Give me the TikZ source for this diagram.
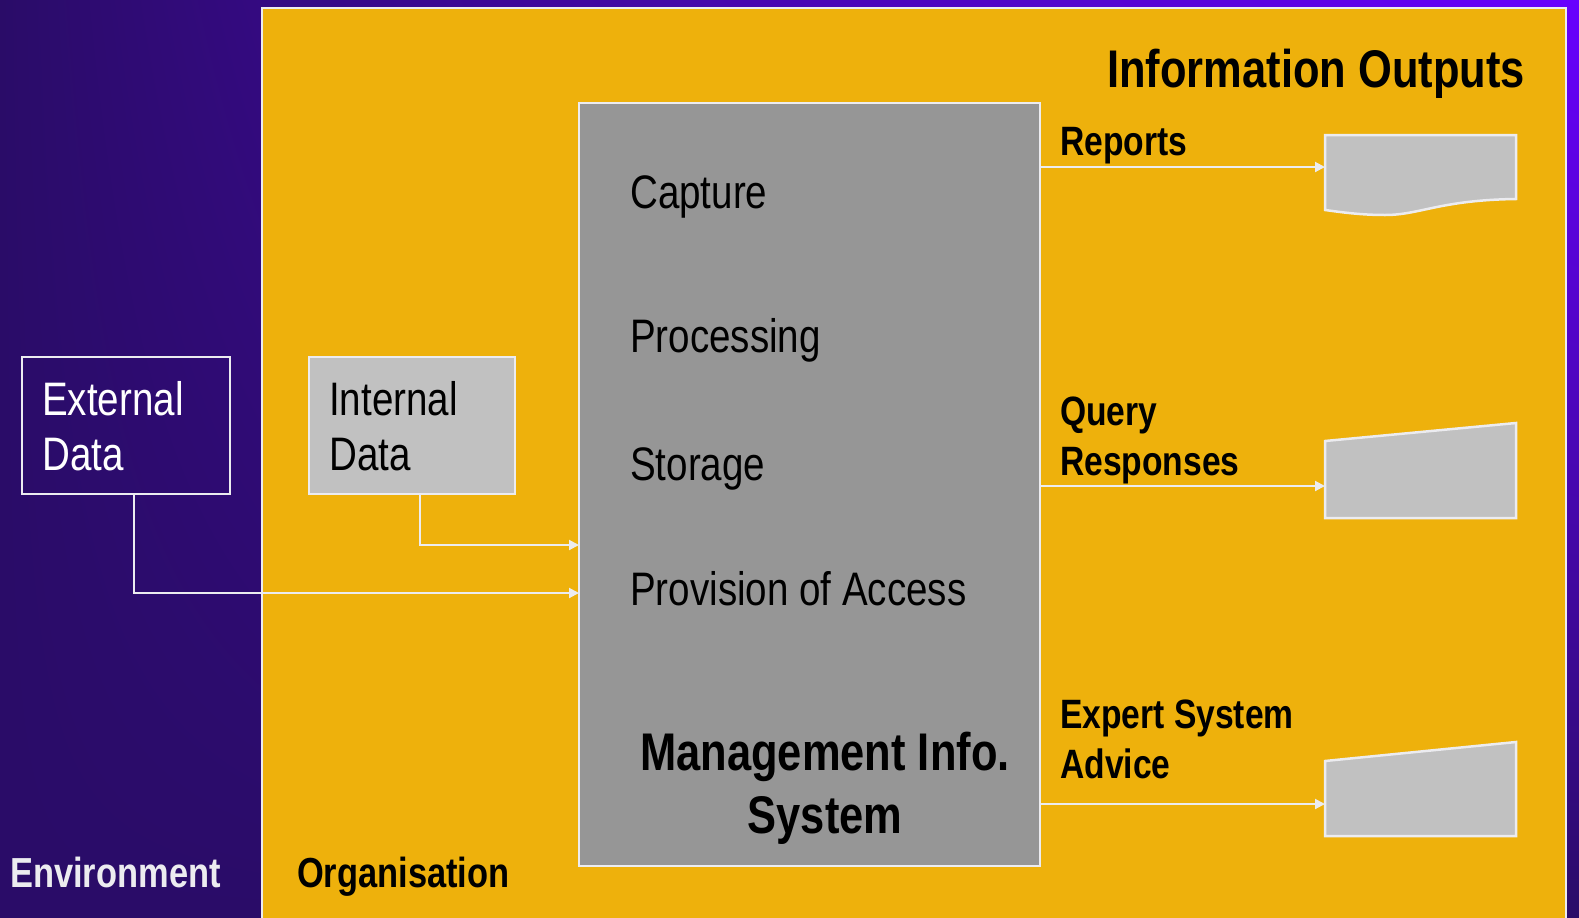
\documentclass[tikz,border=0pt]{standalone}
\usepackage{fontspec}
\setmainfont[FakeStretch=0.82]{Liberation Sans}
\usetikzlibrary{arrows.meta,shadings}
\definecolor{bgdark}{RGB}{42,12,104}
\definecolor{bgbright}{RGB}{104,0,255}
\definecolor{orgfill}{RGB}{238,177,12}
\definecolor{edge}{RGB}{236,236,240}
\definecolor{lightgrey}{RGB}{193,193,193}
\definecolor{misgrey}{RGB}{150,150,150}
\tikzset{
  boxline/.style={draw=edge, line width=2.5bp},
  conn/.style={draw=edge, line width=2bp, -{Triangle[length=10bp,width=10bp]}},
  txt/.style={inner sep=0pt, anchor=base west, align=left},
  reg/.style={font=\fontsize{47bp}{55bp}\selectfont},
  lbl/.style={font=\fontsize{41bp}{50bp}\selectfont\bfseries},
  docshape/.style={boxline, fill=lightgrey},
}
\begin{document}
\begin{tikzpicture}[x=1bp,y=-1bp]
\useasboundingbox (0,0) rectangle (1579,917);
\shade[upper left=bgdark, lower left=bgdark, upper right=bgbright, lower right=bgdark] (0,0) rectangle (1579,917);
% organisation
\draw[boxline, fill=orgfill] (262,8) rectangle (1566,930);
% boxes
\node[boxline, minimum width=208bp, minimum height=137bp, inner sep=0pt] (ext) at (126,425.5) {};
\node[boxline, fill=lightgrey, minimum width=206bp, minimum height=137bp, inner sep=0pt] (int) at (412,425.5) {};
\node[boxline, fill=misgrey, minimum width=461bp, minimum height=763bp, inner sep=0pt] (mis) at (809.5,484.5) {};
% box texts
\node[txt, reg, text=white] (extT) at (42,470) {External\\Data};
\node[txt, reg] (intT) at (329,470) {Internal\\Data};
\node[txt, reg] (cap) at (630,208) {Capture};
\node[txt, reg] (proc) at (630,352) {Processing};
\node[txt, reg] (stor) at (630,480) {Storage};
\node[txt, reg] (prov) at (630,605) {Provision of Access};
\node[inner sep=0pt, anchor=base, align=center, font=\fontsize{53bp}{63bp}\selectfont\bfseries] (misT) at (825,833) {Management Info.\\System};
% titles
\node[inner sep=0pt, anchor=base east, font=\fontsize{53bp}{63bp}\selectfont\bfseries] (outT) at (1525,87) {Information Outputs};
\node[txt, lbl] (repT) at (1060,155) {Reports};
\node[txt, lbl] (qT) at (1060,475) {Query\\Responses};
\node[txt, lbl] (eT) at (1060,778) {Expert System\\Advice};
\node[txt, font=\fontsize{42bp}{50bp}\selectfont\bfseries, text=edge] (envT) at (10,887) {Environment};
\node[txt, font=\fontsize{42bp}{50bp}\selectfont\bfseries] (orgT) at (297,887) {Organisation};
% output documents
\draw[docshape] (1325,135) -- (1516,135) -- (1516,199) .. controls (1440,200) and (1420,215) .. (1385,215) .. controls (1360,215) and (1340,212) .. (1325,210) -- cycle;
\draw[docshape] (1325,441) -- (1516,423) -- (1516,518) -- (1325,518) -- cycle;
\draw[docshape] (1325,761) -- (1516,742) -- (1516,836) -- (1325,836) -- cycle;
\coordinate (rep) at (1325,167);
\coordinate (qry) at (1325,486);
\coordinate (exp) at (1325,804);
\coordinate (inA) at (579,545);
\coordinate (inB) at (579,593);
% connectors
\draw[conn] ([xshift=8bp]int.south) |- (inA);
\draw[conn] ([xshift=8bp]ext.south) |- (inB);
\draw[conn] (mis.east |- rep) -- (rep);
\draw[conn] (mis.east |- qry) -- (qry);
\draw[conn] (mis.east |- exp) -- (exp);
\end{tikzpicture}
\end{document}
